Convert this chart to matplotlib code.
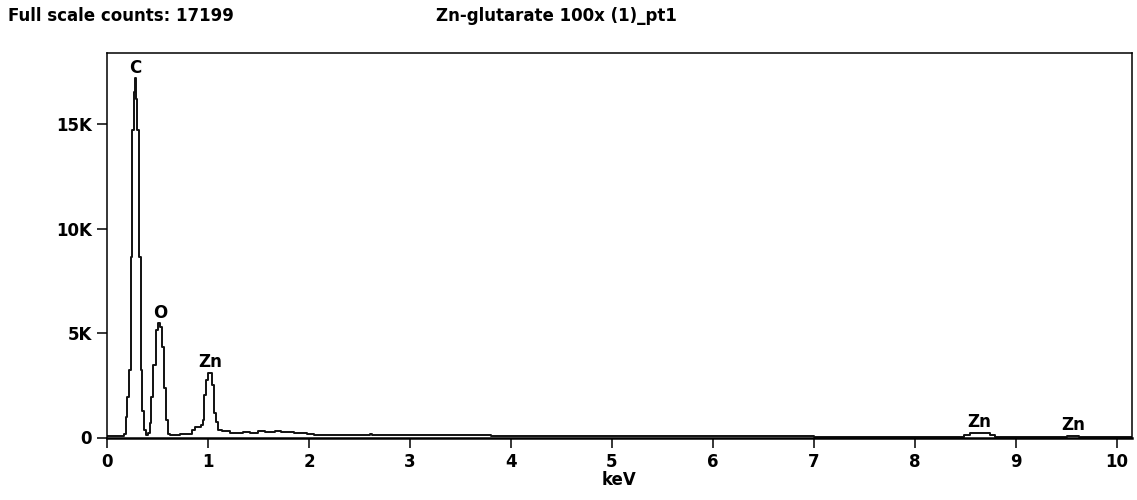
import matplotlib

matplotlib.use("Agg")
import matplotlib.pyplot as plt

# EDS spectrum: channel start energy (keV) and counts
energy = [
    0.00, 0.17, 0.188, 0.201, 0.218, 0.234, 0.251, 0.267, 0.280, 0.292,
    0.300, 0.317, 0.334, 0.350, 0.370, 0.390, 0.410, 0.426, 0.440, 0.460,
    0.485, 0.505, 0.525, 0.545, 0.562, 0.580, 0.600, 0.620, 0.660, 0.720,
    0.840, 0.870, 0.930, 0.950, 0.965, 0.985, 1.005, 1.040, 1.060, 1.080,
    1.100, 1.140, 1.220, 1.350, 1.420, 1.500, 1.560, 1.660, 1.720, 1.850,
    1.980, 2.050, 2.600, 2.620, 3.200, 3.400, 3.800, 4.100, 5.000, 6.000,
    7.000, 7.400, 8.490, 8.550, 8.740, 8.790, 9.510, 9.630, 10.15,
]
counts = [
    60, 150, 1000, 1930, 3210, 8640, 14720, 16550, 17199, 16200,
    14720, 8640, 3210, 1290, 340, 100, 200, 700, 1930, 3450,
    5130, 5460, 5300, 4330, 2350, 815, 190, 100, 130, 190,
    340, 490, 575, 815, 2010, 2730, 3100, 2490, 1150, 735,
    340, 290, 220, 260, 230, 300, 260, 290, 240, 220,
    160, 140, 170, 140, 130, 100, 80, 70, 60, 50,
    40, 30, 120, 230, 120, 30, 90, 30, 30,
]

peak_names = ["C", "O", "Zn", "Zn", "Zn"]
peak_energy = [0.28, 0.525, 1.02, 8.64, 9.57]
peak_height = [17199, 5460, 3100, 230, 90]

full_scale = 17199
title = "Zn-glutarate 100x (1)_pt1"
y_ticks = [0, 5000, 10000, 15000]
y_tick_labels = ["0", "5K", "10K", "15K"]
x_ticks = list(range(11))

plt.rcParams["font.family"] = ["DejaVu Sans"]
plt.rcParams["font.weight"] = "bold"
FS = 12

fig = plt.figure(figsize=(11.37, 5.0), dpi=100)
ax = fig.add_axes([0.0941, 0.125, 0.9015, 0.769])

ax.step(energy, counts, where="post", color="#111111", linewidth=1.4)

for name, e, h in zip(peak_names, peak_energy, peak_height):
    ax.annotate(
        name,
        xy=(e, h),
        xytext=(0, 1),
        textcoords="offset points",
        ha="center",
        va="bottom",
        fontsize=FS,
        fontweight="bold",
    )

ax.set_xlim(0, 10.15)
ax.set_ylim(0, 18400)
ax.set_xticks(x_ticks, [str(t) for t in x_ticks])
ax.set_yticks(y_ticks, y_tick_labels)
ax.tick_params(direction="out", length=7.5, width=1.1, labelsize=FS, pad=3.5)
ax.set_xlabel("keV", fontsize=FS, fontweight="bold", labelpad=0)

for spine in ax.spines.values():
    spine.set_linewidth(1.1)
ax.spines["bottom"].set_linewidth(1.8)

fig.text(8 / 1137, 1 - 16 / 500, f"Full scale counts: {full_scale}",
         fontsize=FS, fontweight="bold", va="center", ha="left")
fig.text(436 / 1137, 1 - 16 / 500, title,
         fontsize=FS, fontweight="bold", va="center", ha="left")

fig.savefig("out.png", dpi=100)
plt.close(fig)
